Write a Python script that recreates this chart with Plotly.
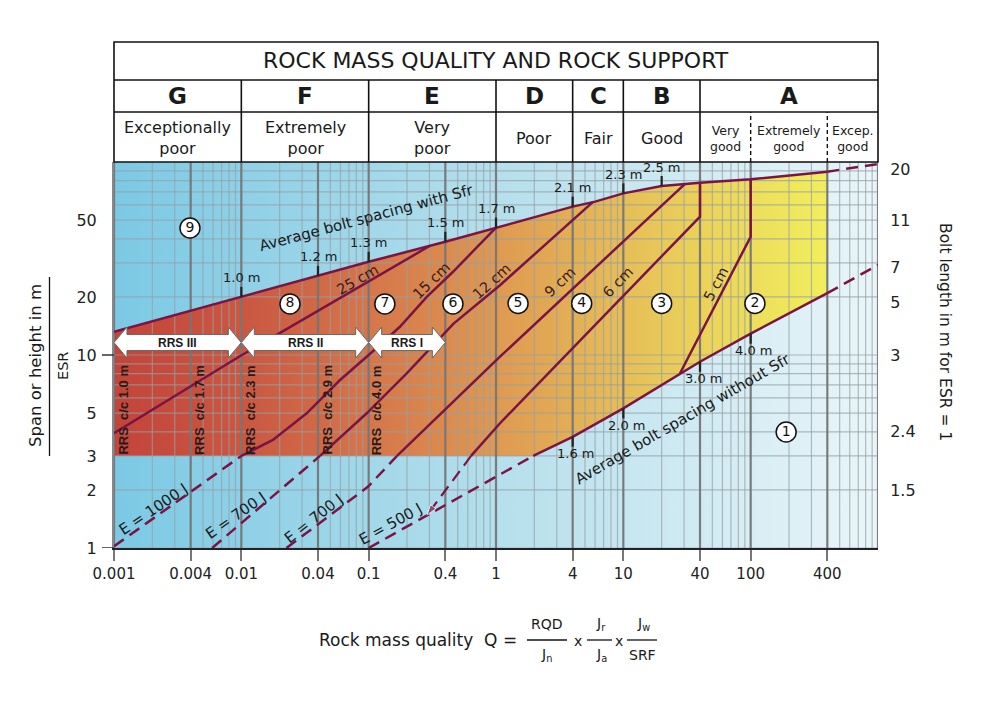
import numpy as np
import plotly.graph_objects as go

# ---------------- header classes ----------------
class_letters = ["G", "F", "E", "D", "C", "B", "A"]
class_bounds = [0.001, 0.01, 0.1, 1, 4, 10, 40, 1000]
class_desc = ["Exceptionally<br>poor", "Extremely<br>poor", "Very<br>poor", "Poor", "Fair", "Good"]
a_desc = ["Very<br>good", "Extremely<br>good", "Excep.<br>good"]
a_bounds = [40, 100, 400, 1000]

# ---------------- axes ----------------
q_range = [0.001, 1000]
v_range = [1, 100]
x_tick_vals = [0.001, 0.004, 0.01, 0.04, 0.1, 0.4, 1, 4, 10, 40, 100, 400]
x_tick_text = ["0.001", "0.004", "0.01", "0.04", "0.1", "0.4", "1", "4", "10", "40", "100", "400"]
y_tick_vals = [1, 2, 3, 5, 10, 20, 50]
y_tick_marked = [1, 10]
bolt_len_pos = [2, 4, 10, 18.8, 28.5, 50, 92]
bolt_len_text = ["1.5", "2.4", "3", "5", "7", "11", "20"]

# ---------------- boundary lines ----------------
with_sfr_q = [0.001, 0.01, 0.04, 0.1, 0.4, 1, 4, 6, 10, 20, 40, 100, 400]
with_sfr_v = [13.2, 20, 25.7, 30.4, 38.6, 45.7, 58.7, 62.3, 68.8, 75.1, 78.1, 81.3, 89.1]
with_sfr_ext_q = [400, 1000]
with_sfr_ext_v = [89.1, 97.6]

without_sfr_q = [1.96, 4, 10, 27.9, 40, 100, 400]
without_sfr_v = [3.0, 3.77, 5.29, 8.04, 9.23, 12.9, 20.9]
without_sfr_low_q = [0.1, 0.287, 0.897, 1.96]      # dashed, E = 500 J
without_sfr_low_v = [1.0, 1.48, 2.25, 3.0]
without_sfr_ext_q = [400, 1000]
without_sfr_ext_v = [20.9, 29.3]

support_cutoff = 3.0

line_25cm_q = [0.001, 0.0098, 0.303]
line_25cm_v = [3.93, 9.88, 36.8]
line_15cm_q = [0.01, 0.0177, 0.0326, 0.0596, 0.1, 0.176, 0.286, 0.46, 1.0]
line_15cm_v = [3.0, 3.63, 4.99, 7.42, 10, 14.0, 20.0, 27.0, 45.7]
line_12cm_q = [0.0415, 0.0965, 0.199, 0.462, 1.075, 5.81]
line_12cm_v = [3.0, 4.99, 8.04, 14.5, 23.0, 62.3]
line_9cm_q = [0.167, 1.075, 30.5]
line_9cm_v = [3.0, 9.8, 77.0]
line_6cm_q = [0.637, 1.075, 40, 40]
line_6cm_v = [3.0, 4.43, 52.1, 78.1]
line_5cm_q = [27.9, 100, 100]
line_5cm_v = [8.04, 41.0, 81.3]

e1000_q = [0.001, 0.01]
e1000_v = [1.02, 3.0]
e700a_q = [0.0059, 0.0415]
e700a_v = [1.0, 3.0]
e700b_q = [0.0226, 0.099, 0.167]
e700b_v = [1.0, 2.08, 3.0]
arrow6_q = [0.637, 0.287]
arrow6_v = [3.0, 1.48]

# ---------------- labels ----------------
cm_labels = ["25 cm", "15 cm", "12 cm", "9 cm", "6 cm", "5 cm"]
cm_label_q = [0.081, 0.309, 0.93, 3.18, 9.08, 53.5]
cm_label_v = [24.5, 24.2, 24.2, 23.9, 23.9, 23.3]
cm_label_angle = [-30, -44, -42, -43, -46, -62]

e_labels = ["E = 1000 J", "E = 700 J", "E = 700 J", "E = 500 J"]
e_label_q = [0.00206, 0.00892, 0.0367, 0.149]
e_label_v = [1.59, 1.47, 1.42, 1.33]
e_label_angle = [-34, -35, -38, -29]

top_tick_q = [0.01, 0.04, 0.1, 0.4, 1, 4, 10, 20]
top_tick_text = ["1.0 m", "1.2 m", "1.3 m", "1.5 m", "1.7 m", "2.1 m", "2.3 m", "2.5 m"]
bot_tick_q = [4, 10, 40, 100]
bot_tick_text = ["1.6 m", "2.0 m", "3.0 m", "4.0 m"]

class_num = ["1", "2", "3", "4", "5", "6", "7", "8", "9"]
class_num_q = [190, 108, 20, 4.71, 1.49, 0.459, 0.134, 0.0241, 0.00395]
class_num_v = [3.99, 18.5, 18.5, 18.5, 18.5, 18.4, 18.4, 18.4, 45.5]

rrs_labels = ["RRS III", "RRS II", "RRS I"]
rrs_from = [0.001, 0.01, 0.1]
rrs_to = [0.01, 0.1, 0.4]
rrs_level = 11.6

rrs_cc_text = ["RRS\u00a0\u00a0c/c 1.0 m", "RRS\u00a0\u00a0c/c 1.7 m", "RRS\u00a0\u00a0c/c 2.3 m",
               "RRS\u00a0\u00a0c/c 2.9 m", "RRS\u00a0\u00a0c/c 4.0 m"]
rrs_cc_q = [0.00119, 0.00473, 0.0119, 0.0475, 0.117]
rrs_cc_v = 5.19

sfr_labels = ["Average bolt spacing with Sfr", "Average bolt spacing without Sfr"]
sfr_label_q = [0.0953, 29.2]
sfr_label_v = [51.3, 4.66]
sfr_label_angle = [-15, -30]

# ---------------- styling ----------------
FONT = "DejaVu Sans"
BOLD = "Liberation Sans"
LINE = "#7a1444"
TXT = "#1a1a1a"
DASH = "12px,7px"

L, R, T, B = 114, 105, 162, 159
W, H = 983, 707
PW, PH = W - L - R, H - T - B


def px(x):
    return (x - L) / PW


def py(y):
    return (H - B - y) / PH


lg = np.log10

fig = go.Figure()

# background gradient
fig.add_trace(go.Scatter(
    x=[q_range[0], q_range[1], q_range[1], q_range[0], q_range[0]],
    y=[v_range[0], v_range[0], v_range[1], v_range[1], v_range[0]],
    mode="lines", line=dict(width=0), fill="toself",
    fillgradient=dict(type="horizontal",
                      colorscale=[[0, "#7bc9e4"], [0.5, "#b5dfec"], [1, "#e9f5f9"]]),
    hoverinfo="skip", showlegend=False))

# support zone polygon
zone_q = list(with_sfr_q) + list(without_sfr_q[::-1]) + [with_sfr_q[0], with_sfr_q[0]]
zone_v = list(with_sfr_v) + list(without_sfr_v[::-1]) + [support_cutoff, with_sfr_v[0]]
fig.add_trace(go.Scatter(
    x=zone_q, y=zone_v, mode="lines", line=dict(width=0), fill="toself",
    fillgradient=dict(type="horizontal",
                      colorscale=[[0, "#c2443a"], [0.2, "#cb5a42"], [0.38, "#d67a4b"],
                                  [0.55, "#df9c52"], [0.7, "#e5bb57"], [0.85, "#ecd75a"],
                                  [1, "#f1ee5e"]]),
    hoverinfo="skip", showlegend=False))

# grid
x_minor = [d * 10.0 ** k for k in range(-3, 3) for d in range(1, 10)] + [1000]
y_minor = [d * 10.0 ** k for k in range(0, 2) for d in range(1, 10)] + [100]
x_major = x_tick_vals + [1000]


def vsegs(vals):
    xs, ys = [], []
    for v in vals:
        xs += [v, v, None]
        ys += [v_range[0], v_range[1], None]
    return xs, ys


def hsegs(vals):
    xs, ys = [], []
    for v in vals:
        xs += [q_range[0], q_range[1], None]
        ys += [v, v, None]
    return xs, ys


gx, gy = vsegs(x_minor)
hx, hy = hsegs(y_minor)
fig.add_trace(go.Scatter(x=gx + hx, y=gy + hy, mode="lines",
                         line=dict(color="rgba(150,160,165,0.7)", width=1.2),
                         hoverinfo="skip", showlegend=False))
mx, my = vsegs(x_major)
fig.add_trace(go.Scatter(x=mx, y=my, mode="lines",
                         line=dict(color="rgba(115,115,115,0.9)", width=2.2),
                         hoverinfo="skip", showlegend=False))

# solid lines
for qs, vs in [(with_sfr_q, with_sfr_v), (without_sfr_q, without_sfr_v),
               (line_25cm_q, line_25cm_v), (line_15cm_q, line_15cm_v),
               (line_12cm_q, line_12cm_v), (line_9cm_q, line_9cm_v),
               (line_6cm_q, line_6cm_v), (line_5cm_q, line_5cm_v)]:
    fig.add_trace(go.Scatter(x=qs, y=vs, mode="lines", line=dict(color=LINE, width=2.5),
                             hoverinfo="skip", showlegend=False))

# dashed lines
for qs, vs in [(with_sfr_ext_q, with_sfr_ext_v), (without_sfr_ext_q, without_sfr_ext_v),
               (without_sfr_low_q, without_sfr_low_v), (e1000_q, e1000_v),
               (e700a_q, e700a_v), (e700b_q, e700b_v)]:
    fig.add_trace(go.Scatter(x=qs, y=vs, mode="lines",
                             line=dict(color=LINE, width=2.5, dash=DASH),
                             hoverinfo="skip", showlegend=False))
fig.add_trace(go.Scatter(x=arrow6_q, y=arrow6_v, mode="lines+markers",
                         line=dict(color=LINE, width=2.2, dash=DASH),
                         marker=dict(symbol="arrow", size=[0, 11], color=LINE, angleref="previous"),
                         hoverinfo="skip", showlegend=False))

# ticks on spacing lines
tl = 10 ** (10 / 193)
top_line_v = 10 ** np.interp(lg(top_tick_q), lg(with_sfr_q), lg(with_sfr_v))
bot_line_v = 10 ** np.interp(lg(bot_tick_q), lg(without_sfr_q), lg(without_sfr_v))
tx, ty = [], []
for q, v in zip(top_tick_q, top_line_v):
    tx += [q, q, None]
    ty += [v, v * tl, None]
for q, v in zip(bot_tick_q, bot_line_v):
    tx += [q, q, None]
    ty += [v, v / tl, None]
fig.add_trace(go.Scatter(x=tx, y=ty, mode="lines", line=dict(color="#222", width=2.2),
                         hoverinfo="skip", showlegend=False))

# RRS arrows
hl, bh, hh = 0.102, 0.0415, 0.0803
lv = lg(rrs_level)
for q0, q1 in zip(rrs_from, rrs_to):
    a, b = lg(q0), lg(q1)
    pxs = [a, a + hl, a + hl, b - hl, b - hl, b, b - hl, b - hl, a + hl, a + hl, a]
    pys = [lv, lv + hh, lv + bh, lv + bh, lv + hh, lv, lv - hh, lv - bh, lv - bh, lv - hh, lv]
    fig.add_trace(go.Scatter(x=[10 ** p for p in pxs], y=[10 ** p for p in pys], mode="lines",
                             line=dict(color="#666", width=1), fill="toself", fillcolor="white",
                             hoverinfo="skip", showlegend=False))

# circled class numbers
fig.add_trace(go.Scatter(x=class_num_q, y=class_num_v, mode="markers+text", text=class_num,
                         textposition="middle center",
                         textfont=dict(family=FONT, size=14, color="#111"),
                         marker=dict(symbol="circle", size=20, color="white",
                                     line=dict(color="#111", width=1.5)),
                         hoverinfo="skip", showlegend=False))

# invisible trace for right axis
fig.add_trace(go.Scatter(x=[q_range[0]], y=[v_range[0]], yaxis="y2", mode="markers",
                         marker=dict(opacity=0), hoverinfo="skip", showlegend=False))

ann = []


def add(text, x, y, size, xref="paper", yref="paper", angle=0, font=FONT, color=TXT, **kw):
    ann.append(dict(text=text, x=x, y=y, xref=xref, yref=yref, showarrow=False,
                    textangle=angle, font=dict(family=font, size=size, color=color),
                    xanchor=kw.pop("xanchor", "center"), yanchor=kw.pop("yanchor", "middle"), **kw))


# header
add("ROCK MASS QUALITY AND ROCK SUPPORT", 0.5, py(61), 22)
for i, letter in enumerate(class_letters):
    cx = (lg(class_bounds[i]) + lg(class_bounds[i + 1])) / 2
    add("<b>" + letter + "</b>", cx, py(96), 23, xref="x")
for i, d in enumerate(class_desc):
    cx = (lg(class_bounds[i]) + lg(class_bounds[i + 1])) / 2
    add(d, cx, py(138), 16, xref="x")
for i, d in enumerate(a_desc):
    cx = (lg(a_bounds[i]) + lg(a_bounds[i + 1])) / 2
    add(d, cx, py(138), 12.5, xref="x")

# line labels
for t, q, v, a in zip(cm_labels, cm_label_q, cm_label_v, cm_label_angle):
    add(t, lg(q), lg(v), 14.5, xref="x", yref="y", angle=a, color="#3a1c1c")
for t, q, v, a in zip(e_labels, e_label_q, e_label_v, e_label_angle):
    add(t, lg(q), lg(v), 15, xref="x", yref="y", angle=a)
for t, q, v, a in zip(sfr_labels, sfr_label_q, sfr_label_v, sfr_label_angle):
    add(t, lg(q), lg(v), 15, xref="x", yref="y", angle=a)
for t, q, v in zip(top_tick_text, top_tick_q, top_line_v):
    add(t, lg(q), lg(v), 13, xref="x", yref="y", yshift=19)
for t, q, v in zip(bot_tick_text, bot_tick_q, bot_line_v):
    add(t, lg(q), lg(v), 13, xref="x", yref="y", yshift=-17, xshift=3)
for t, q0, q1 in zip(rrs_labels, rrs_from, rrs_to):
    add("<b>" + t + "</b>", (lg(q0) + lg(q1)) / 2, lv, 12, xref="x", yref="y", font=BOLD)
for t, q in zip(rrs_cc_text, rrs_cc_q):
    add("<b>" + t + "</b>", lg(q), lg(rrs_cc_v), 13, xref="x", yref="y", angle=-90,
        font=BOLD, color="#2a1a1a")

# axis titles
add("Span or height in m", px(35), py(366), 16.5, angle=-90)
add("ESR", px(63), py(366), 14.5, angle=-90)
add("Bolt length in m for ESR = 1", px(945), py(332), 15.5, angle=90)

# formula
add("Rock mass quality  Q =", px(519), py(640), 17, xanchor="right")
add("RQD", px(547), py(624), 14)
add("J<sub>n</sub>", px(546), py(655), 14)
add("x", px(578), py(641), 14)
add("J<sub>r</sub>", px(601), py(624), 14)
add("J<sub>a</sub>", px(601), py(655), 14)
add("x", px(619), py(641), 14)
add("J<sub>w</sub>", px(643), py(624), 14)
add("SRF", px(642), py(655), 14)

shapes = []
# header table (shapes on log axes take raw data values)
shapes.append(dict(type="rect", xref="paper", yref="paper", x0=0, x1=1, y0=1, y1=py(42),
                   line=dict(color="#111", width=1.6)))
for yy in [80, 112]:
    shapes.append(dict(type="line", xref="paper", yref="paper", x0=0, x1=1, y0=py(yy), y1=py(yy),
                       line=dict(color="#111", width=1.6)))
for b in class_bounds[1:-1]:
    shapes.append(dict(type="line", xref="x", yref="paper", x0=b, x1=b, y0=1, y1=py(80),
                       line=dict(color="#111", width=1.6)))
for b in a_bounds[1:-1]:
    shapes.append(dict(type="line", xref="x", yref="paper", x0=b, x1=b, y0=1, y1=py(112),
                       line=dict(color="#111", width=1.4, dash="4px,3px")))
# left ticks at 1 and 10
for v in y_tick_marked:
    shapes.append(dict(type="line", xref="paper", yref="y", x0=px(102), x1=0, y0=v, y1=v,
                       line=dict(color="#333", width=1.5)))
# axis title fraction line
shapes.append(dict(type="line", xref="paper", yref="paper", x0=px(49.5), x1=px(49.5),
                   y0=py(456), y1=py(277), line=dict(color="#111", width=1.3)))
# formula fraction lines
for a, b in [(527, 567), (587, 612), (627, 657)]:
    shapes.append(dict(type="line", xref="paper", yref="paper", x0=px(a), x1=px(b),
                       y0=py(640), y1=py(640), line=dict(color="#111", width=1.3)))

fig.update_layout(
    width=W, height=H, margin=dict(l=L, r=R, t=T, b=B),
    paper_bgcolor="white", plot_bgcolor="white",
    font=dict(family=FONT, color=TXT),
    showlegend=False, annotations=ann, shapes=shapes,
    xaxis=dict(type="log", range=[lg(q_range[0]), lg(q_range[1])], tickvals=x_tick_vals,
               ticktext=x_tick_text, ticks="outside", ticklen=11, tickwidth=2.2,
               tickcolor="#777", showgrid=False, zeroline=False, showline=True,
               linecolor="#222", linewidth=2, tickfont=dict(size=15, color="#222")),
    yaxis=dict(type="log", range=[lg(v_range[0]), lg(v_range[1])], tickvals=y_tick_vals,
               ticktext=[str(v) for v in y_tick_vals], ticks="outside", ticklen=12,
               tickcolor="rgba(0,0,0,0)", showgrid=False, zeroline=False, showline=True,
               linecolor="#888", linewidth=2, tickfont=dict(size=16, color="#222")),
    yaxis2=dict(type="log", range=[lg(v_range[0]), lg(v_range[1])], overlaying="y", side="right",
                tickvals=bolt_len_pos, ticktext=bolt_len_text, ticks="outside", ticklen=8,
                tickcolor="rgba(0,0,0,0)", showgrid=False, zeroline=False, showline=False,
                tickfont=dict(size=16, color="#222")),
)

fig.write_html("out.html")
